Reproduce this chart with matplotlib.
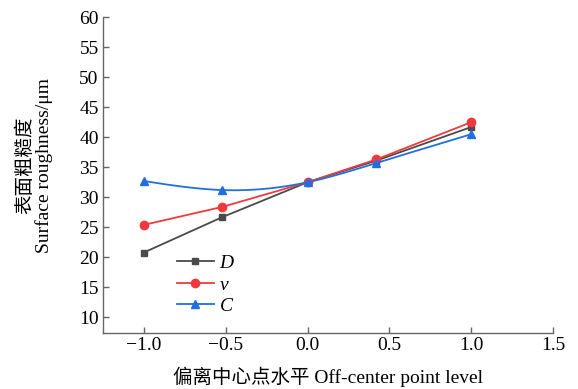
import numpy as np
import matplotlib
matplotlib.use("Agg")
import matplotlib.pyplot as plt

# Surface roughness vs. off-center point level for three factors
x_levels = [-1.0, -0.52, 0.0, 0.42, 1.0]
rough_D = [20.8, 26.7, 32.5, 36.1, 41.7]
rough_v = [25.4, 28.4, 32.5, 36.3, 42.5]
rough_C = [32.7, 31.2, 32.5, 35.7, 40.5]
series_labels = ["D", "v", "C"]

x_ticks = [-1.0, -0.5, 0.0, 0.5, 1.0, 1.5]
y_ticks = list(range(10, 61, 5))


def natural_spline(x, y, n=200):
    """Natural cubic spline through (x, y), used to draw a smooth line."""
    x = np.asarray(x, float)
    y = np.asarray(y, float)
    m = len(x)
    h = np.diff(x)
    A = np.zeros((m, m))
    b = np.zeros(m)
    A[0, 0] = A[-1, -1] = 1.0
    for i in range(1, m - 1):
        A[i, i - 1] = h[i - 1]
        A[i, i] = 2 * (h[i - 1] + h[i])
        A[i, i + 1] = h[i]
        b[i] = 3 * ((y[i + 1] - y[i]) / h[i] - (y[i] - y[i - 1]) / h[i - 1])
    c = np.linalg.solve(A, b)
    xs = np.linspace(x[0], x[-1], n)
    idx = np.clip(np.searchsorted(x, xs) - 1, 0, m - 2)
    dx = xs - x[idx]
    hi = h[idx]
    bi = (y[idx + 1] - y[idx]) / hi - hi * (2 * c[idx] + c[idx + 1]) / 3
    di = (c[idx + 1] - c[idx]) / (3 * hi)
    ys = y[idx] + bi * dx + c[idx] * dx ** 2 + di * dx ** 3
    return xs, ys


plt.rcParams["font.family"] = ["Liberation Serif", "Noto Sans CJK SC"]

fig = plt.figure(figsize=(5.78, 3.89), dpi=100)
ax = fig.add_axes([0.178, 0.144, 0.779, 0.812])

col_D = "#4a4a4a"
col_v = "#f0393c"
col_C = "#1f6fe0"

ax.plot(x_levels, rough_D, color=col_D, lw=1.3, marker="s", ms=5,
        label=series_labels[0])
ax.plot(x_levels, rough_v, color=col_v, lw=1.3, marker="o", ms=6,
        label=series_labels[1])
xs, ys = natural_spline(x_levels, rough_C)
ax.plot(xs, ys, color=col_C, lw=1.3)
ax.plot(x_levels, rough_C, color=col_C, lw=0, marker="^", ms=6)
# legend handle for C: line + marker
ax.plot([], [], color=col_C, lw=1.3, marker="^", ms=6, label=series_labels[2])

ax.set_xlim(-1.25, 1.5)
ax.set_ylim(7.4, 60)
ax.set_xticks(x_ticks)
ax.set_xticklabels([f"{t:.1f}".replace("-", "\u2212") for t in x_ticks])
ax.set_yticks(y_ticks)

for s in ["top", "right"]:
    ax.spines[s].set_visible(False)
for s in ["left", "bottom"]:
    ax.spines[s].set_color("#666666")
    ax.spines[s].set_linewidth(1.0)
ax.tick_params(direction="in", length=4, width=1.0, color="#666666",
               labelsize=14, pad=3)

ax.set_xlabel("偏离中心点水平 Off-center point level", fontsize=14, labelpad=9)
ax.set_ylabel("表面粗糙度\nSurface roughness/μm", fontsize=14,
              linespacing=1.05)
ax.yaxis.set_label_coords(-0.11, 0.53)

leg = ax.legend(loc="upper left", bbox_to_anchor=(0.164, 0.248), frameon=False,
                prop={"style": "italic", "size": 14},
                handlelength=1.9, handletextpad=0.3, labelspacing=0.2,
                borderpad=0, borderaxespad=0)

fig.savefig("out.png", dpi=100)
